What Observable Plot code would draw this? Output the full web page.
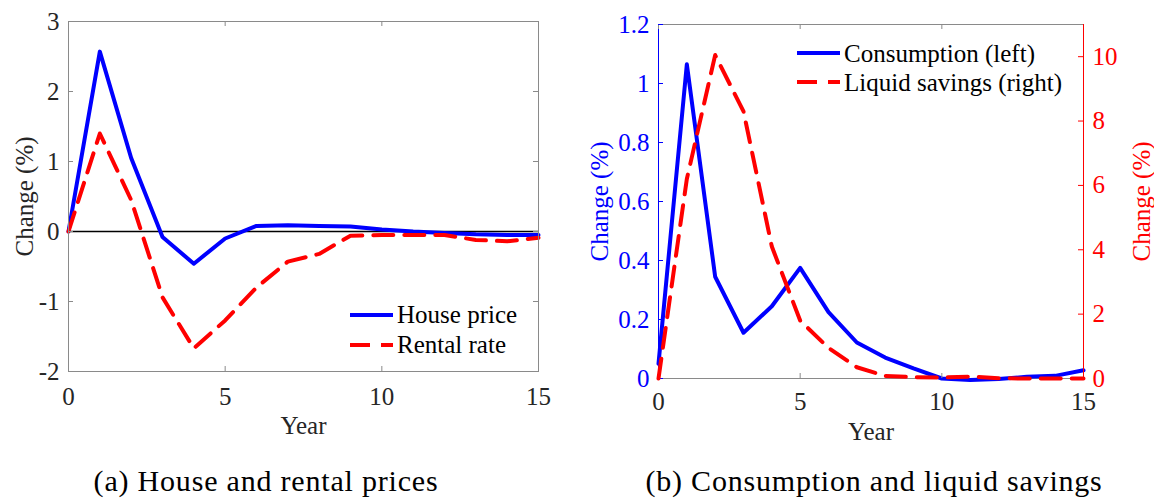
<!DOCTYPE html>
<html><head><meta charset="utf-8">
<script src="https://cdn.jsdelivr.net/npm/d3@7"></script>
<script src="https://cdn.jsdelivr.net/npm/@observablehq/plot@0.6"></script>
<style>
html,body{margin:0;padding:0;background:#fff;}
#wrap{position:relative;width:1154px;height:499px;overflow:hidden;font-family:'Liberation Serif',serif;color:#262626;}
.abs{position:absolute;}
.abs svg{overflow:visible;font-family:'Liberation Serif',serif !important;}
.abs svg text{font-family:'Liberation Serif',serif !important;}
.cap{position:absolute;font-family:'Liberation Serif',serif;font-size:30px;line-height:30px;letter-spacing:0.8px;white-space:nowrap;transform:translateX(-50%);color:#000;}
</style></head><body><div id="wrap"></div>
<script>
// ---- data ----
const years = [0,1,2,3,4,5,6,7,8,9,10,11,12,13,14,15];
const housePrice = [0, 2.57, 1.05, -0.08, -0.46, -0.10, 0.08, 0.09, 0.08, 0.07, 0.03, 0.0, -0.02, -0.04, -0.05, -0.05];
const rentalRate = [0, 1.40, 0.45, -0.94, -1.67, -1.27, -0.80, -0.43, -0.32, -0.06, -0.05, -0.05, -0.05, -0.12, -0.14, -0.09];
const consumption = [0.05, 1.065, 0.345, 0.155, 0.245, 0.375, 0.225, 0.122, 0.071, 0.034, 0.0, -0.005, -0.002, 0.006, 0.009, 0.028];
const liquidSavings = [0, 6.2, 10.05, 8.3, 4.1, 1.8, 0.95, 0.35, 0.08, 0.04, 0.03, 0.06, 0.01, 0.0, 0.0, 0.0];
const xTicks = [0, 5, 10, 15];
const leftYTicks = [-2, -1, 0, 1, 2, 3];
const consTicks = [0, 0.2, 0.4, 0.6, 0.8, 1, 1.2];
const savTicks = [0, 2, 4, 6, 8, 10];
const legendA = ["House price", "Rental rate"];
const legendB = ["Consumption (left)", "Liquid savings (right)"];
const captions = ["(a) House and rental prices", "(b) Consumption and liquid savings"];
const yLabel = "Change (%)";
const xLabel = "Year";

const BLUE = "#0000ff", RED = "#ff0000", GRAY = "#8a8a8a", INK = "#262626";
const LW = 4, DASH = "20,11", TL = 5, FS = 25;
const FONT = "Liberation Serif";

const tableA = years.map((t, i) => ({t, house: housePrice[i], rent: rentalRate[i]}));
const tableB = years.map((t, i) => ({t, cons: consumption[i], sav: liquidSavings[i]}));
const fmt = d => String(d);
const txt = {fontSize: FS, fontFamily: FONT};

const wrap = document.getElementById("wrap");
function place(node, left, top) {
  const d = document.createElement("div");
  d.className = "abs"; d.style.left = left + "px"; d.style.top = top + "px";
  d.appendChild(node); wrap.appendChild(d); return d;
}
const baseStyle = {fontFamily: FONT, fontSize: FS + "px", color: INK, background: "transparent", overflow: "visible"};

// ---- panel (a) ----
const A = {w: 560, h: 440, l: 68, r: 22, t: 21, b: 69};
const iwA = A.w - A.l - A.r, ihA = A.h - A.t - A.b;
const plotA = Plot.plot({
  width: A.w, height: A.h, marginLeft: A.l, marginRight: A.r, marginTop: A.t, marginBottom: A.b,
  style: baseStyle,
  x: {domain: [0, 15]}, y: {domain: [-2, 3]},
  marks: [
    Plot.ruleY([0], {stroke: "#000", strokeWidth: 1.3}),
    Plot.line(tableA, {x: "t", y: "house", stroke: BLUE, strokeWidth: LW}),
    Plot.line(tableA, {x: "t", y: "rent", stroke: RED, strokeWidth: LW, strokeDasharray: DASH}),
    Plot.frame({stroke: GRAY}),
    Plot.tickX(xTicks, {x: d => d, insetTop: ihA - TL, stroke: GRAY}),
    Plot.tickX(xTicks, {x: d => d, insetBottom: ihA - TL, stroke: GRAY}),
    Plot.tickY(leftYTicks, {y: d => d, insetRight: iwA - TL, stroke: GRAY}),
    Plot.tickY(leftYTicks, {y: d => d, insetLeft: iwA - TL, stroke: GRAY}),
    Plot.axisX(xTicks, {tickSize: 0, tickPadding: 16, label: null, tickFormat: fmt, ...txt, fill: INK}),
    Plot.axisY(leftYTicks, {tickSize: 0, tickPadding: 9, label: null, tickFormat: fmt, ...txt, fill: INK}),
    Plot.text([xLabel], {frameAnchor: "bottom", dy: 54, lineAnchor: "middle", textAnchor: "middle", ...txt, fill: INK}),
    Plot.text([yLabel], {frameAnchor: "left", dx: -44, rotate: -90, lineAnchor: "middle", textAnchor: "middle", ...txt, fill: INK})
  ]
});
place(plotA, 0, 0);

// ---- panel (b), left axis ----
const B = {w: 584, h: 440, l: 88, r: 71, t: 24, b: 62, x0: 570};
const iwB = B.w - B.l - B.r, ihB = B.h - B.t - B.b;
const plotB = Plot.plot({
  width: B.w, height: B.h, marginLeft: B.l, marginRight: B.r, marginTop: B.t, marginBottom: B.b,
  style: baseStyle,
  x: {domain: [0, 15]}, y: {domain: [0, 1.2]},
  marks: [
    Plot.frame({stroke: GRAY}),
    Plot.ruleX([0], {stroke: BLUE, strokeWidth: 1}),
    Plot.line(tableB, {x: "t", y: "cons", stroke: BLUE, strokeWidth: LW}),
    Plot.tickX(xTicks, {x: d => d, insetTop: ihB - TL, stroke: GRAY}),
    Plot.tickX(xTicks, {x: d => d, insetBottom: ihB - TL, stroke: GRAY}),
    Plot.tickY(consTicks, {y: d => d, insetRight: iwB - TL, stroke: BLUE}),
    Plot.axisX(xTicks, {tickSize: 0, tickPadding: 14, label: null, tickFormat: fmt, ...txt, fill: INK}),
    Plot.axisY(consTicks, {tickSize: 0, tickPadding: 9, label: null, tickFormat: fmt, ...txt, fill: BLUE}),
    Plot.text([xLabel], {frameAnchor: "bottom", dy: 53, lineAnchor: "middle", textAnchor: "middle", ...txt, fill: INK}),
    Plot.text([yLabel], {frameAnchor: "left", dx: -59, rotate: -90, lineAnchor: "middle", textAnchor: "middle", ...txt, fill: BLUE})
  ]
});
place(plotB, B.x0, 0);

// ---- panel (b), right axis overlay ----
const plotC = Plot.plot({
  width: B.w, height: B.h, marginLeft: B.l, marginRight: B.r, marginTop: B.t, marginBottom: B.b,
  style: baseStyle,
  x: {domain: [0, 15], axis: null}, y: {domain: [0, 11]},
  marks: [
    Plot.ruleX([15], {stroke: RED, strokeWidth: 1}),
    Plot.line(tableB, {x: "t", y: "sav", stroke: RED, strokeWidth: LW, strokeDasharray: DASH}),
    Plot.tickY(savTicks, {y: d => d, insetLeft: iwB - TL, stroke: RED}),
    Plot.axisY(savTicks, {anchor: "right", tickSize: 0, tickPadding: 9, label: null, tickFormat: fmt, ...txt, fill: RED}),
    Plot.text([yLabel], {frameAnchor: "right", dx: 58, rotate: -90, lineAnchor: "middle", textAnchor: "middle", ...txt, fill: RED})
  ]
});
place(plotC, B.x0, 0);

// ---- legends ----
function legend(left, top, items) {
  const ns = "http://www.w3.org/2000/svg";
  const svg = document.createElementNS(ns, "svg");
  svg.setAttribute("width", 320); svg.setAttribute("height", 70);
  items.forEach(it => {
    const y = it.lineY;
    const ln = document.createElementNS(ns, "line");
    ln.setAttribute("x1", 0); ln.setAttribute("x2", 43);
    ln.setAttribute("y1", y); ln.setAttribute("y2", y);
    ln.setAttribute("stroke", it.color); ln.setAttribute("stroke-width", LW);
    if (it.dash) ln.setAttribute("stroke-dasharray", DASH);
    svg.appendChild(ln);
    const tx = document.createElementNS(ns, "text");
    tx.setAttribute("x", 47); tx.setAttribute("y", it.base);
    tx.setAttribute("font-family", FONT); tx.setAttribute("font-size", FS);
    tx.setAttribute("fill", "#000");
    tx.textContent = it.label;
    svg.appendChild(tx);
  });
  place(svg, left, top);
}
legend(350, 300, [
  {label: legendA[0], color: BLUE, dash: false, lineY: 15, base: 23},
  {label: legendA[1], color: RED, dash: true, lineY: 45, base: 53}
]);
legend(797, 38, [
  {label: legendB[0], color: BLUE, dash: false, lineY: 15, base: 24},
  {label: legendB[1], color: RED, dash: true, lineY: 44, base: 53}
]);

// ---- captions ----
[[captions[0], 266], [captions[1], 874]].forEach(([t, cx]) => {
  const d = document.createElement("div");
  d.className = "cap"; d.textContent = t;
  d.style.left = cx + "px"; d.style.top = "466px";
  wrap.appendChild(d);
});
</script></body></html>
